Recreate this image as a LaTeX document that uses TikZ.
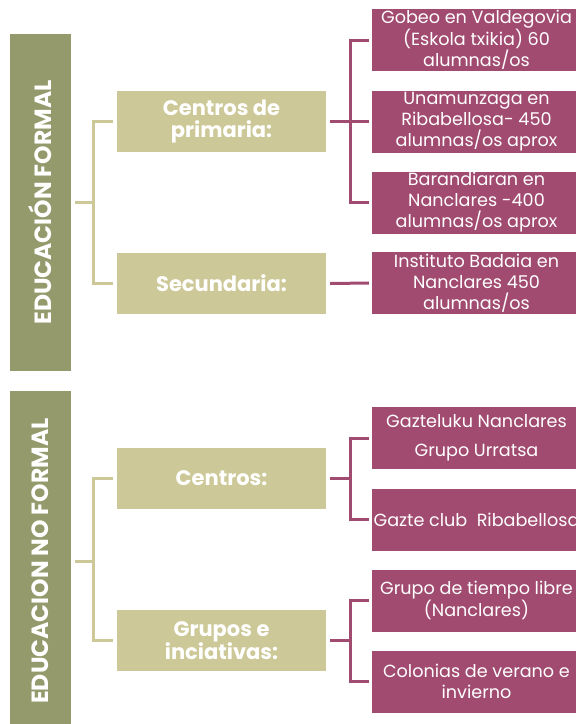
\documentclass[tikz,border=0pt]{standalone}
\usepackage{fontspec}
\setmainfont{Poppins}
\definecolor{olivec}{HTML}{949A6C}
\definecolor{tanc}{HTML}{CCC897}
\definecolor{magc}{HTML}{A24B70}
\begin{document}
\begin{tikzpicture}[x=1pt,y=-1pt,
  bigbox/.style={fill=olivec, rotate=90, minimum height=61pt, inner sep=0pt, text=white,
    font=\bfseries\fontsize{23.5}{26}\selectfont},
  midbox/.style={fill=tanc, minimum width=209pt, minimum height=61pt, inner sep=0pt, text=white,
    align=center, font=\bfseries\fontsize{21}{22}\selectfont},
  rbox/.style={fill=magc, minimum width=209pt, minimum height=62pt, inner sep=0pt, text=white,
    align=center, font=\fontsize{17.6}{21}\selectfont},
  tanl/.style={draw=tanc, line width=3pt},
  magl/.style={draw=magc, line width=3pt}]
\useasboundingbox (0,0) rectangle (576,724);
\clip (0,0) rectangle (576,724);
% left big boxes
\node[bigbox, minimum width=337pt] (fa) at (40.5,202.5) {EDUCACIÓN FORMAL};
\node[bigbox, minimum width=340pt] (fb) at (40.5,561) {EDUCACION NO FORMAL};
% middle boxes
\node[midbox] (p1) at (221.5,121.5) {Centros de\\primaria:};
\node[midbox] (p2) at (221.5,283.5) {Secundaria:};
\node[midbox] (c1) at (221.5,478.5) {Centros:};
\node[midbox] (g1) at (221.5,640.5) {Grupos e\\inciativas:};
% right boxes
\node[rbox] (r1) at (476.5,40) {Gobeo en Valdegovia\\(Eskola txikia) 60\\alumnas/os};
\node[rbox] (r2) at (476.5,121.5) {Unamunzaga en\\Ribabellosa- 450\\alumnas/os aprox};
\node[rbox] (r3) at (476.5,202.5) {Barandiaran en\\Nanclares -400\\alumnas/os aprox};
\node[rbox] (r4) at (476.5,283) {Instituto Badaia en\\Nanclares 450\\alumnas/os};
\node[rbox] (r5) at (476.5,438) {Gazteluku Nanclares\\[8pt]Grupo Urratsa};
\node[rbox] (r6) at (476.5,519.5) {Gazte club\ \ Ribabellosa};
\node[rbox] (r7) at (476.5,600.5) {Grupo de tiempo libre\\(Nanclares)};
\node[rbox] (r8) at (476.5,681.5) {Colonias de verano e\\invierno};
% tan connectors
\coordinate (ja) at (93,202.5);
\coordinate (jb) at (93,561);
\draw[tanl] ([xshift=4pt]fa.south) -- (ja);
\draw[tanl] ([xshift=-4pt]p1.west) -| (ja) |- ([xshift=-4pt]p2.west);
\draw[tanl] ([xshift=4pt]fb.south) -- (jb);
\draw[tanl] ([xshift=-4pt]c1.west) -| (jb) |- ([xshift=-4pt]g1.west);
% magenta connectors
\coordinate (k1) at (350,121.5);
\coordinate (k2) at (350,478.5);
\coordinate (k3) at (350,640.5);
\draw[magl] ([xshift=4pt]p1.east) -- ([xshift=-3pt]r2.west);
\draw[magl] ([xshift=-3pt]r1.west) -| (k1) |- ([xshift=-3pt]r3.west);
\draw[magl] ([xshift=4pt]p2.east) -- ([xshift=-3pt]r4.west);
\draw[magl] ([xshift=4pt]c1.east) -- (k2);
\draw[magl] ([xshift=-3pt]r5.west) -| (k2) |- ([xshift=-3pt]r6.west);
\draw[magl] ([xshift=4pt]g1.east) -- (k3);
\draw[magl] ([xshift=-3pt]r7.west) -| (k3) |- ([xshift=-3pt]r8.west);
\end{tikzpicture}
\end{document}
